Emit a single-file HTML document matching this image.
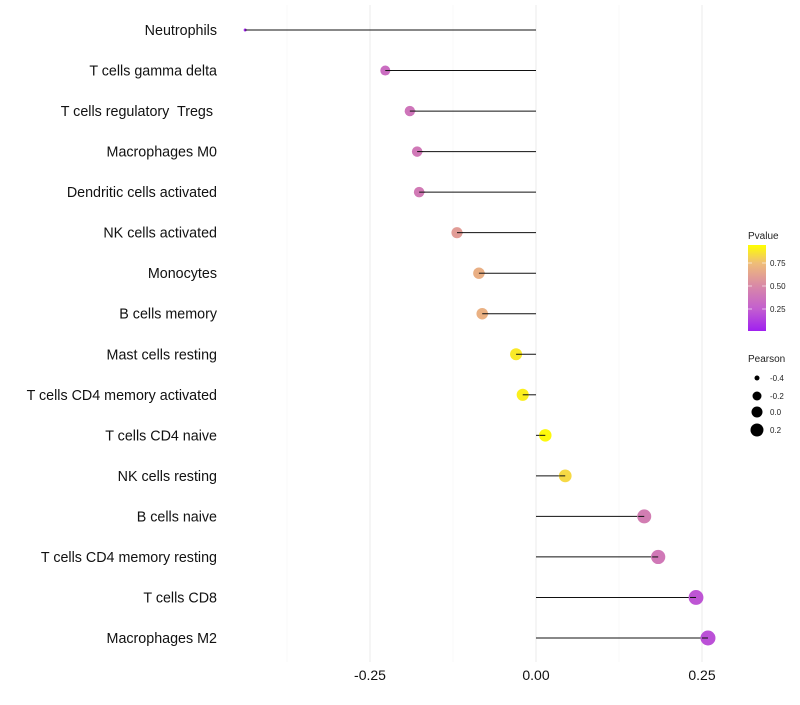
<!DOCTYPE html>
<html><head><meta charset="utf-8"><style>
body{margin:0;background:#fff;font-family:"Liberation Sans",sans-serif;}
text{white-space:pre;}
</style></head><body>
<svg id="chart" width="800" height="700" xmlns="http://www.w3.org/2000/svg">
<defs><linearGradient id="pg" x1="0" y1="1" x2="0" y2="0">
<stop offset="0" stop-color="#a020f0"/><stop offset="0.26" stop-color="#c35fcf"/><stop offset="0.53" stop-color="#d98aa6"/><stop offset="0.79" stop-color="#efbd78"/><stop offset="1" stop-color="#ffff00"/></linearGradient></defs>
<g id="grid"></g><g id="marks"></g><g id="labels"></g><g id="legend"></g>
</svg>
<script>
const categories=["Neutrophils","T cells gamma delta","T cells regulatory  Tregs ","Macrophages M0","Dendritic cells activated","NK cells activated","Monocytes","B cells memory","Mast cells resting","T cells CD4 memory activated","T cells CD4 naive","NK cells resting","B cells naive","T cells CD4 memory resting","T cells CD8","Macrophages M2"];
const pearson=[-0.438,-0.227,-0.190,-0.179,-0.176,-0.119,-0.086,-0.081,-0.030,-0.020,0.014,0.044,0.163,0.184,0.241,0.259];
const pvalue=[0.02,0.35,0.40,0.42,0.43,0.62,0.72,0.73,0.93,0.95,0.98,0.88,0.45,0.42,0.22,0.2];
const xTicks=[-0.25,0,0.25];
const xTickLabels=["-0.25","0.00","0.25"];
const minorTicks=[-0.375,-0.125,0.125];
const NS="http://www.w3.org/2000/svg";
const x=v=>536+v*664;
const y=i=>30+i*(608/15);
const r=v=>v<-0.227?1.5+3.5*(v+0.438)/0.211:5+2.5*(v+0.227)/0.486;
const stops=[[0,[160,32,240]],[0.26,[195,95,207]],[0.53,[217,138,166]],[0.79,[239,189,120]],[1,[255,255,0]]];
function col(p){for(let k=1;k<stops.length;k++){if(p<=stops[k][0]){const a=stops[k-1],b=stops[k],t=(p-a[0])/(b[0]-a[0]);return "rgb("+a[1].map((c,j)=>Math.round(c+(b[1][j]-c)*t)).join(",")+")";}}return "rgb(255,255,0)";}
function el(t,a,p){const e=document.createElementNS(NS,t);for(const k in a)e.setAttribute(k,a[k]);p.appendChild(e);return e;}
const grid=document.getElementById('grid'),marks=document.getElementById('marks'),labels=document.getElementById('labels'),legend=document.getElementById('legend');
minorTicks.forEach(v=>{const g=el('line',{x1:x(v),x2:x(v),y1:5,y2:662,stroke:'#f3f3f3','stroke-width':0.6},grid);

});
xTicks.forEach((v,i)=>{const g=el('line',{x1:x(v),x2:x(v),y1:5,y2:662,stroke:'#ebebeb','stroke-width':1},grid);


const t=el('text',{x:x(v),y:680,'text-anchor':'middle','font-size':14,fill:'#111'},labels);t.textContent=xTickLabels[i];

});
categories.forEach((c,i)=>{
const t=el('text',{x:217,y:y(i)+5,'text-anchor':'end','font-size':14.3,fill:'#111'},labels);t.textContent=c;


const l=el('line',{x1:x(0),x2:x(pearson[i]),y1:y(i),y2:y(i),stroke:'#111','stroke-width':1},marks);


const d=el('circle',{cx:x(pearson[i]),cy:y(i),r:r(pearson[i]),fill:col(pvalue[i])},marks);


const l2=el('line',{x1:x(pearson[i])+(pearson[i]<0?0:-6),x2:x(pearson[i])+(pearson[i]<0?6:0),y1:y(i),y2:y(i),stroke:'#111','stroke-width':1},marks);


});
let t=el('text',{x:748,y:239,'font-size':10,fill:'#222'},legend);t.textContent="Pvalue";


const cb=el('rect',{x:748,y:245,width:18,height:86,fill:'url(#pg)'},legend);


[[0.75,263],[0.5,286],[0.25,309]].forEach(([v,yy])=>{
el('line',{x1:748,x2:752,y1:yy,y2:yy,stroke:'#fff','stroke-width':0.6},legend);el('line',{x1:762,x2:766,y1:yy,y2:yy,stroke:'#fff','stroke-width':0.6},legend);
const tt=el('text',{x:770,y:yy+3,'font-size':8,fill:'#222'},legend);tt.textContent=v.toFixed(2);

});
t=el('text',{x:748,y:362,'font-size':10,fill:'#222'},legend);t.textContent="Pearson";


[[-0.4,378,2.5],[-0.2,396,4.5],[0,412,5.5],[0.2,430,6.5]].forEach(([v,yy,rr])=>{
const c=el('circle',{cx:757,cy:yy,r:rr,fill:'#000'},legend);


const tt=el('text',{x:770,y:yy+3,'font-size':8,fill:'#222'},legend);tt.textContent=v.toFixed(1);

});
</script>
</body></html>
